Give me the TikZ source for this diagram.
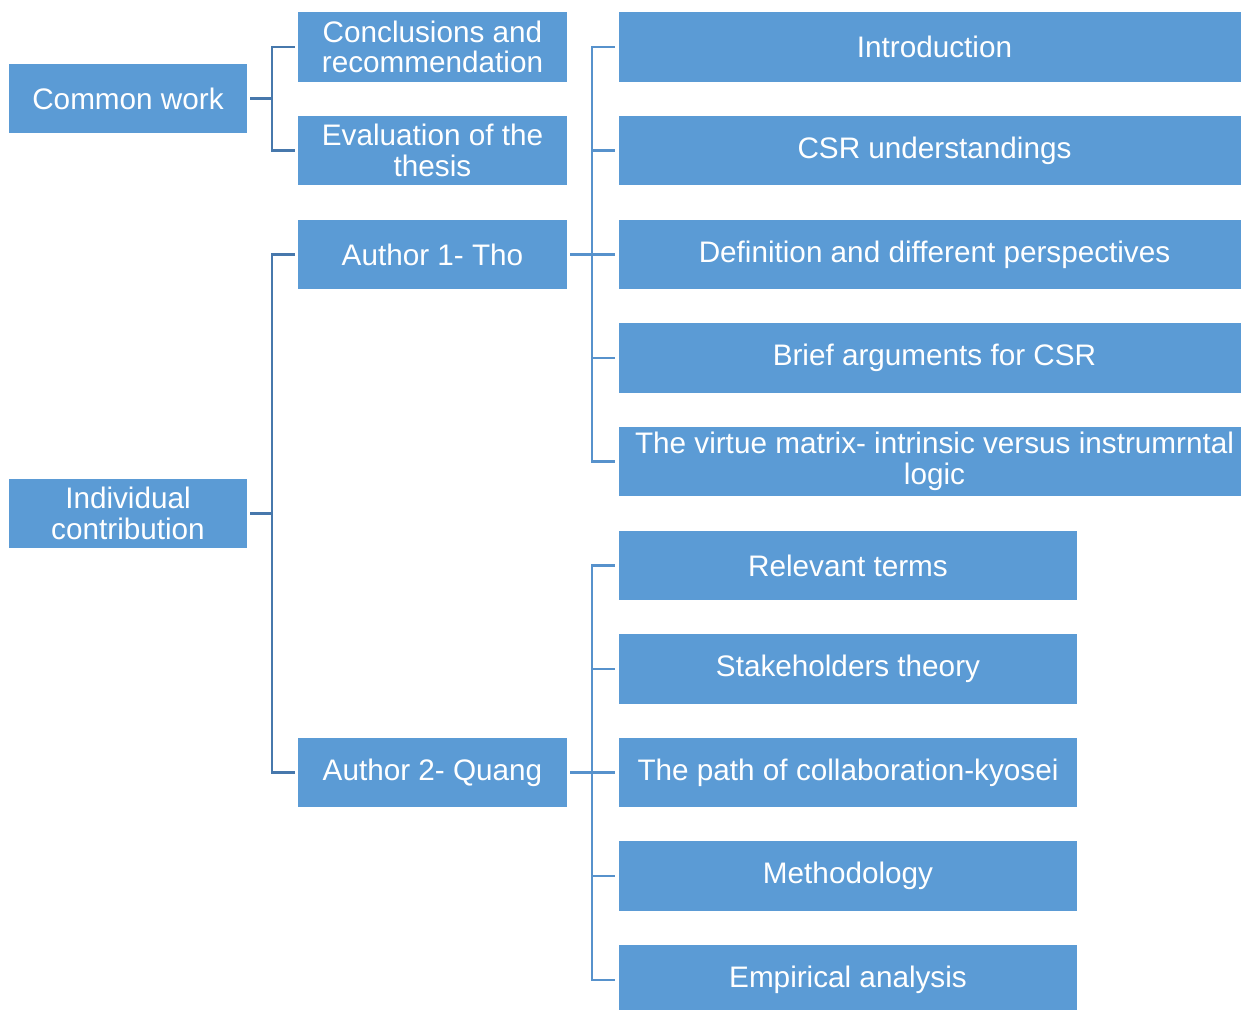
\documentclass[tikz,border=0pt]{standalone}
\usepackage{fontspec}
\setmainfont{Liberation Sans}
\definecolor{boxblue}{HTML}{5B9BD5}
\definecolor{trunkdark}{HTML}{4778AC}
\definecolor{trunklight}{HTML}{5792CC}
\tikzset{
  box/.style={fill=boxblue, draw=none, text=white, align=center, inner sep=0pt,
    minimum height=1.4cm, font=\fontsize{16.9}{17.4}\selectfont},
  colA/.style={box, minimum width=4.76cm},
  colB/.style={box, minimum width=5.38cm},
  colC/.style={box, minimum width=12.62cm},
  colD/.style={box, minimum width=9.16cm},
  linkA/.style={draw=trunkdark, line width=1.15pt},
  linkB/.style={draw=trunklight, line width=1.15pt},
}
\begin{document}
\begin{tikzpicture}[x=0.02cm, y=-0.02cm]
\useasboundingbox (0,0) rectangle (1241,1010);

% first level
\node[colA] (cw) at (128,98.5) {Common work};
\node[colA] (ic) at (128,513.5) {Individual\\contribution};

% second level
\node[colB] (concl) at (432.5,47) {Conclusions and\\recommendation};
\node[colB] (evalt) at (432.5,150.5) {Evaluation of the\\thesis};
\node[colB] (au1)   at (432.5,254.5) {Author 1- Tho};
\node[colB] (au2)   at (432.5,772.5) {Author 2- Quang};

% chapters of author 1 (boxes run past the right margin)
\node[colC] (intro) at (934.5,47)    {Introduction};
\node[colC] (csr)   at (934.5,150.5) {CSR understandings};
\node[colC] (defn)  at (934.5,254.5) {Definition and different perspectives};
\node[colC] (brief) at (934.5,358)   {Brief arguments for CSR};
\node[colC] (virt)  at (934.5,461.5) {The virtue matrix- intrinsic versus instrumrntal\\logic};

% chapters of author 2
\node[colD] (rel)   at (848,565.5) {Relevant terms};
\node[colD] (stake) at (848,669)   {Stakeholders theory};
\node[colD] (path)  at (848,772.5) {The path of collaboration-kyosei};
\node[colD] (meth)  at (848,876)   {Methodology};
\node[colD] (emp)   at (848,980)   {Empirical analysis};

% trunk positions
\coordinate (tA) at (272,0);
\coordinate (tB) at (592,0);

% common work branch
\draw[linkA] ([xshift=0.06cm]cw.east) -- (cw.east -| tA);
\draw[linkA] ([xshift=-0.06cm]concl.west) -- (concl.west -| tA)
  -- (evalt.west -| tA) -- ([xshift=-0.06cm]evalt.west);

% individual contribution branch
\draw[linkA] ([xshift=0.06cm]ic.east) -- (ic.east -| tA);
\draw[linkA] ([xshift=-0.06cm]au1.west) -- (au1.west -| tA)
  -- (au2.west -| tA) -- ([xshift=-0.06cm]au2.west);

% author 1 branch
\draw[linkB] ([xshift=0.06cm]au1.east) -- (au1.east -| tB);
\draw[linkB] ([xshift=-0.08cm]intro.west) -- (intro.west -| tB)
  -- (virt.west -| tB) -- ([xshift=-0.08cm]virt.west);
\foreach \n in {csr,defn,brief}
  \draw[linkB] (\n.west -| tB) -- ([xshift=-0.08cm]\n.west);

% author 2 branch
\draw[linkB] ([xshift=0.06cm]au2.east) -- (au2.east -| tB);
\draw[linkB] ([xshift=-0.08cm]rel.west) -- (rel.west -| tB)
  -- (emp.west -| tB) -- ([xshift=-0.08cm]emp.west);
\foreach \n in {stake,path,meth}
  \draw[linkB] (\n.west -| tB) -- ([xshift=-0.08cm]\n.west);
\end{tikzpicture}
\end{document}
